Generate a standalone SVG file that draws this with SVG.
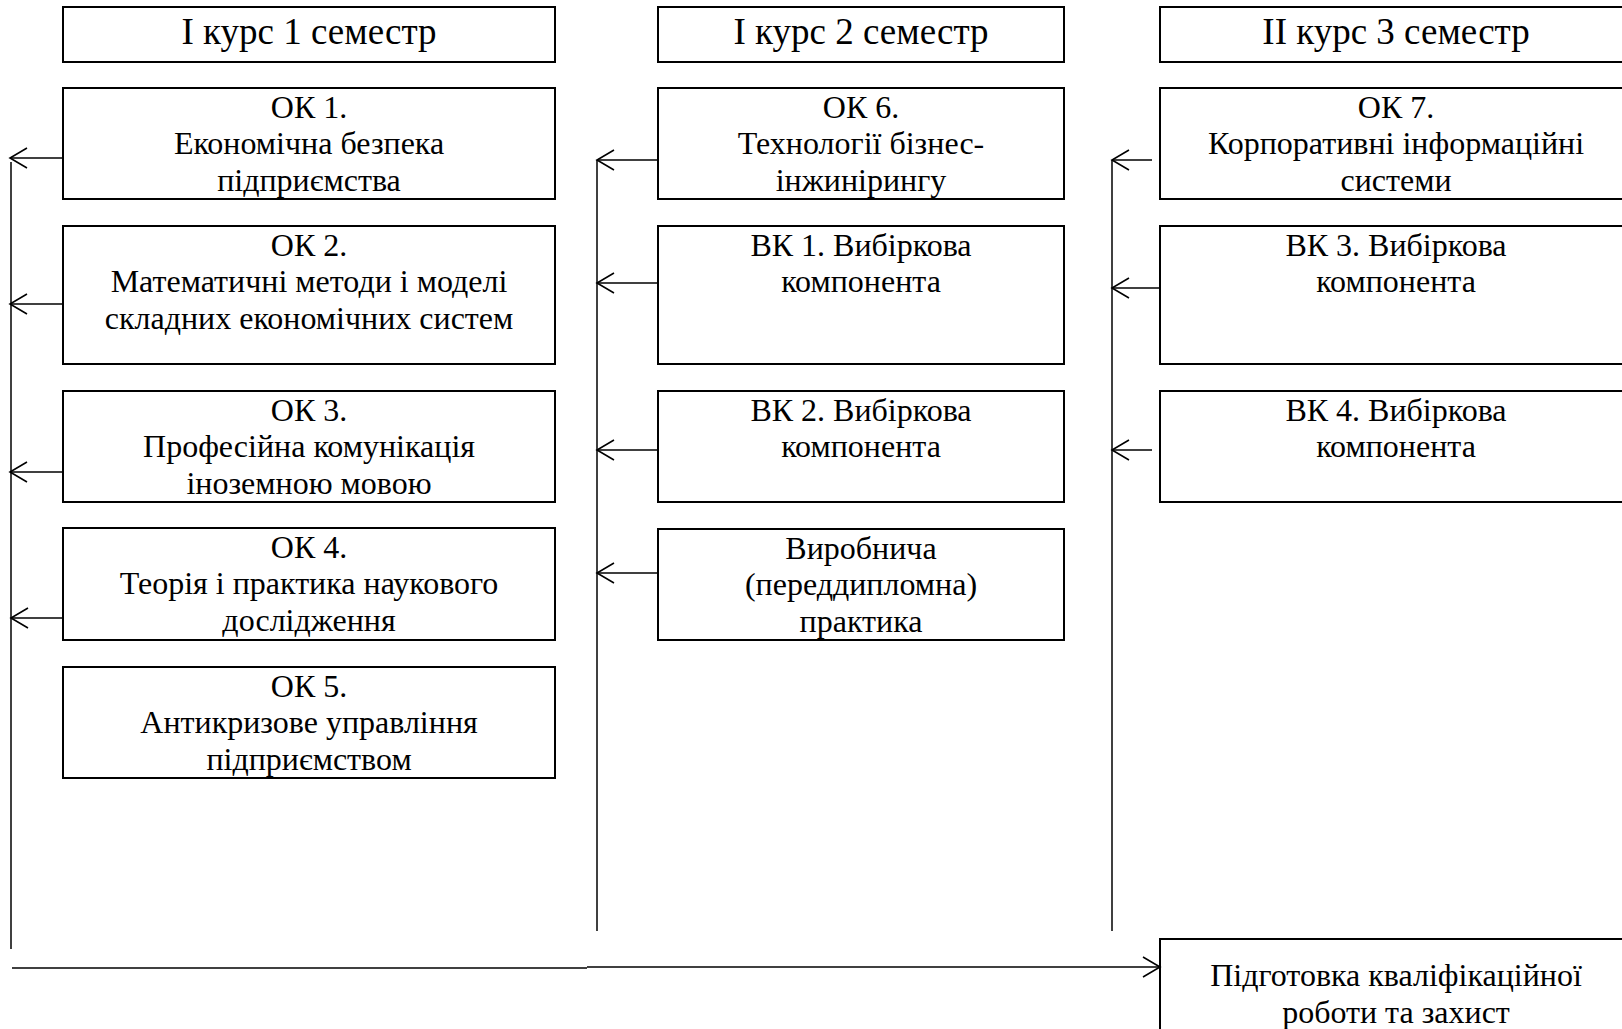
<svg xmlns="http://www.w3.org/2000/svg" width="1622" height="1029" viewBox="0 0 1622 1029">
<defs>
<style>
.box{fill:#fff;stroke:#000;stroke-width:2}
.t{font-family:"Liberation Serif","Times New Roman",serif;font-size:32px;fill:#000;text-anchor:middle}
.h{font-family:"Liberation Serif","Times New Roman",serif;font-size:37px;fill:#000;text-anchor:middle}
.c{fill:none;stroke:#000;stroke-width:1.5}
</style>
<marker id="arr" viewBox="0 0 20 22" markerUnits="userSpaceOnUse" markerWidth="20" markerHeight="22" refX="18" refY="11" orient="auto">
<path d="M1 1 L18 11 L1 21" fill="none" stroke="#000" stroke-width="1.6"/>
</marker>
</defs>
<rect width="1622" height="1029" fill="#fff"/>

<g id="h1"><rect class="box" x="63" y="7" width="492" height="55"/><text class="h" x="309" y="44">І курс 1 семестр</text></g>
<g id="h2"><rect class="box" x="658" y="7" width="406" height="55"/><text class="h" x="861" y="44">І курс 2 семестр</text></g>
<g id="h3"><rect class="box" x="1160" y="7" width="472" height="55"/><text class="h" x="1396" y="44">ІІ курс 3 семестр</text></g>

<g id="ok1"><rect class="box" x="63" y="88" width="492" height="111"/><text class="t"><tspan x="309" y="117.5">ОК 1.</tspan><tspan x="309" y="154">Економічна безпека</tspan><tspan x="309" y="190.5">підприємства</tspan></text></g>
<g id="ok2"><rect class="box" x="63" y="226" width="492" height="138"/><text class="t"><tspan x="309" y="255.5">ОК 2.</tspan><tspan x="309" y="292">Математичні методи і моделі</tspan><tspan x="309" y="328.5">складних економічних систем</tspan></text></g>
<g id="ok3"><rect class="box" x="63" y="391" width="492" height="111"/><text class="t"><tspan x="309" y="420.5">ОК 3.</tspan><tspan x="309" y="457">Професійна комунікація</tspan><tspan x="309" y="493.5">іноземною мовою</tspan></text></g>
<g id="ok4"><rect class="box" x="63" y="528" width="492" height="112"/><text class="t"><tspan x="309" y="557.5">ОК 4.</tspan><tspan x="309" y="594">Теорія і практика наукового</tspan><tspan x="309" y="630.5">дослідження</tspan></text></g>
<g id="ok5"><rect class="box" x="63" y="667" width="492" height="111"/><text class="t"><tspan x="309" y="696.5">ОК 5.</tspan><tspan x="309" y="733">Антикризове управління</tspan><tspan x="309" y="769.5">підприємством</tspan></text></g>

<g id="ok6"><rect class="box" x="658" y="88" width="406" height="111"/><text class="t"><tspan x="861" y="117.5">ОК 6.</tspan><tspan x="861" y="154">Технології бізнес-</tspan><tspan x="861" y="190.5">інжинірингу</tspan></text></g>
<g id="vk1"><rect class="box" x="658" y="226" width="406" height="138"/><text class="t"><tspan x="861" y="255.5">ВК 1. Вибіркова</tspan><tspan x="861" y="292">компонента</tspan></text></g>
<g id="vk2"><rect class="box" x="658" y="391" width="406" height="111"/><text class="t"><tspan x="861" y="420.5">ВК 2. Вибіркова</tspan><tspan x="861" y="457">компонента</tspan></text></g>
<g id="prakt"><rect class="box" x="658" y="529" width="406" height="111"/><text class="t"><tspan x="861" y="558.5">Виробнича</tspan><tspan x="861" y="595">(переддипломна)</tspan><tspan x="861" y="631.5">практика</tspan></text></g>

<g id="ok7"><rect class="box" x="1160" y="88" width="472" height="111"/><text class="t"><tspan x="1396" y="117.5">ОК 7.</tspan><tspan x="1396" y="154">Корпоративні інформаційні</tspan><tspan x="1396" y="190.5">системи</tspan></text></g>
<g id="vk3"><rect class="box" x="1160" y="226" width="472" height="138"/><text class="t"><tspan x="1396" y="255.5">ВК 3. Вибіркова</tspan><tspan x="1396" y="292">компонента</tspan></text></g>
<g id="vk4"><rect class="box" x="1160" y="391" width="472" height="111"/><text class="t"><tspan x="1396" y="420.5">ВК 4. Вибіркова</tspan><tspan x="1396" y="457">компонента</tspan></text></g>

<g id="final"><rect class="box" x="1160" y="939" width="472" height="110"/><text class="t"><tspan x="1396" y="986">Підготовка кваліфікаційної</tspan><tspan x="1396" y="1022.5">роботи та захист</tspan></text></g>

<g id="connectors">
<line class="c" x1="11" y1="162" x2="11" y2="949"/>
<line class="c" x1="63" y1="158" x2="10" y2="158" marker-end="url(#arr)"/>
<line class="c" x1="63" y1="304" x2="10" y2="304" marker-end="url(#arr)"/>
<line class="c" x1="63" y1="472" x2="10" y2="472" marker-end="url(#arr)"/>
<line class="c" x1="63" y1="618" x2="11" y2="618" marker-end="url(#arr)"/>

<line class="c" x1="597" y1="160" x2="597" y2="931"/>
<line class="c" x1="658" y1="160" x2="597" y2="160" marker-end="url(#arr)"/>
<line class="c" x1="658" y1="283" x2="597" y2="283" marker-end="url(#arr)"/>
<line class="c" x1="658" y1="450" x2="597" y2="450" marker-end="url(#arr)"/>
<line class="c" x1="658" y1="573" x2="597" y2="573" marker-end="url(#arr)"/>

<line class="c" x1="1112" y1="160" x2="1112" y2="931"/>
<line class="c" x1="1152" y1="160" x2="1112" y2="160" marker-end="url(#arr)"/>
<line class="c" x1="1160" y1="288" x2="1112" y2="288" marker-end="url(#arr)"/>
<line class="c" x1="1152" y1="450" x2="1112" y2="450" marker-end="url(#arr)"/>

<line class="c" x1="12" y1="968" x2="587" y2="968"/>
<line class="c" x1="587" y1="967" x2="1160" y2="967" marker-end="url(#arr)"/>
</g>
</svg>
